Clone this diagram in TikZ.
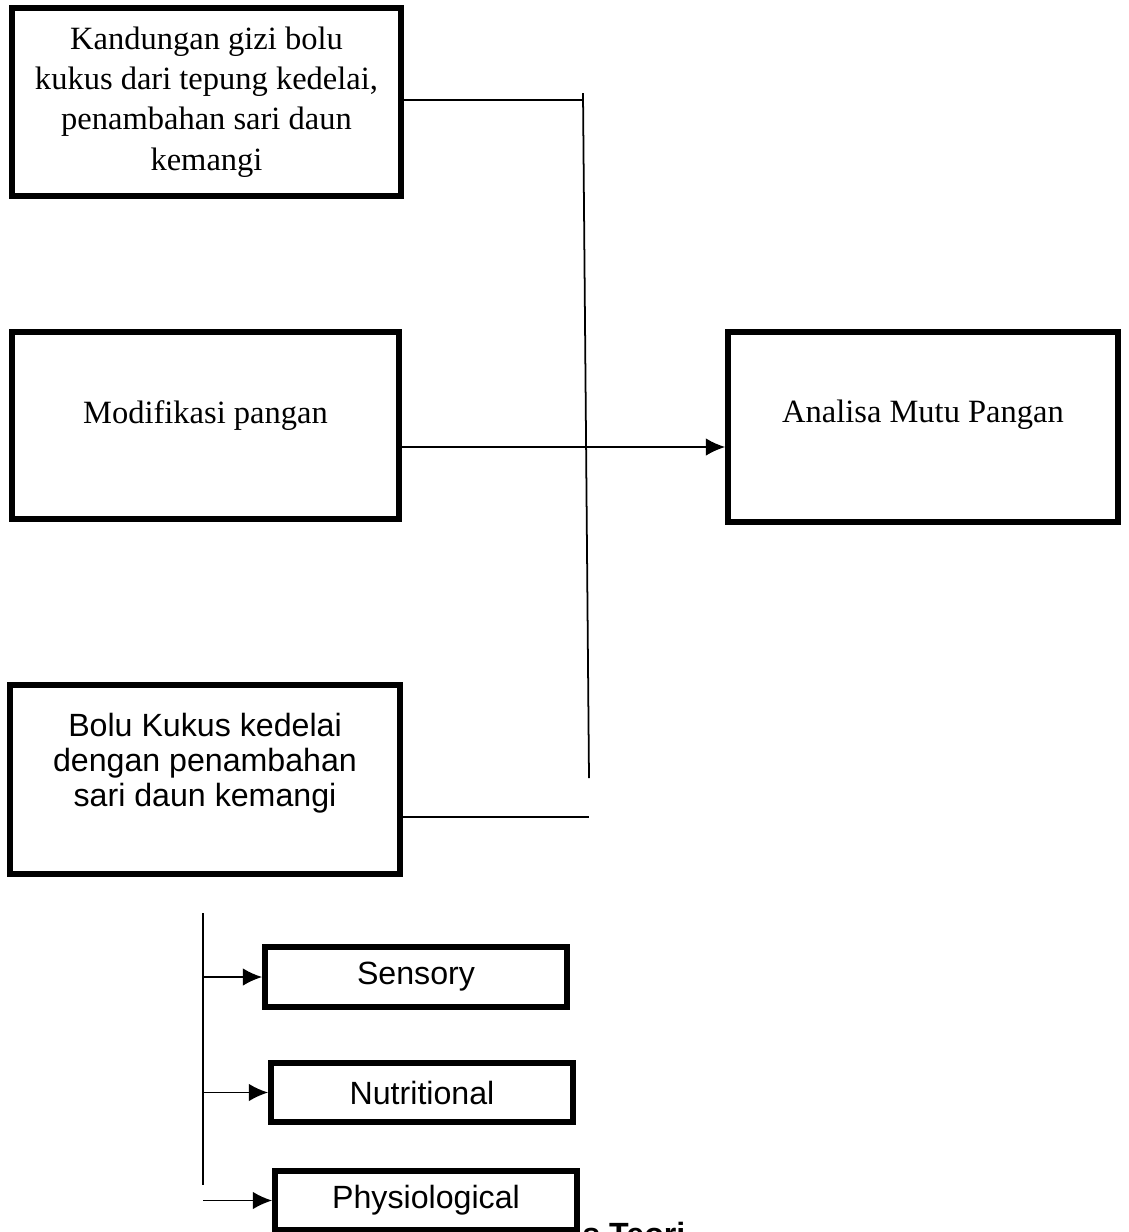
\documentclass[tikz,border=0pt]{standalone}
\usepackage{fontspec}
\setmainfont{Liberation Serif}
\setsansfont{Liberation Sans}
\usepackage{tikz}
\usetikzlibrary{arrows.meta}

\begin{document}
\begin{tikzpicture}[x=0.02cm, y=-0.02cm,
  box/.style={draw, line width=3.3pt, inner sep=0pt},
  rmtext/.style={font=\fontsize{18.5}{23}\selectfont, align=center},
  sftext/.style={font=\sffamily\fontsize{18.3}{20}\selectfont, align=center},
  link/.style={line width=1pt},
  tip/.style={link, -{Latex[length=11pt, width=10pt]}}]
\useasboundingbox (0,0) rectangle (1129,1232);

% left column
\node[box, rmtext, minimum width=7.78cm, minimum height=3.76cm] (gizi) at (206.5,102)
  {Kandungan gizi bolu\\kukus dari tepung kedelai,\\penambahan sari daun\\kemangi};
\node[box, minimum width=7.74cm, minimum height=3.74cm] (modif) at (205.5,425.5) {};
\node[rmtext] (modiftext) at ([yshift=0.2cm]modif.center) {Modifikasi pangan};
\node[box, minimum width=7.8cm, minimum height=3.78cm] (bolu) at (205,779.5) {};
\node[sftext] (bolutext) at ([yshift=0.33cm]bolu.center) {Bolu Kukus kedelai\\dengan penambahan\\sari daun kemangi};

% right box
\node[box, minimum width=7.8cm, minimum height=3.8cm] (mutu) at (923,427) {};
\node[rmtext] (mututext) at ([yshift=0.24cm]mutu.center) {Analisa Mutu Pangan};

% three aspects
\node[box, sftext, minimum width=6.04cm, minimum height=1.2cm] (sens) at (416,977) {Sensory};
\node[box, sftext, minimum width=6.04cm, minimum height=1.18cm] (nutr) at (422,1092.5) {Nutritional};
\node[box, sftext, minimum width=6.04cm, minimum height=1.18cm] (phys) at (426,1200.5) {Physiological};

\node[font=\sffamily\bfseries\fontsize{18.3}{20}\selectfont, anchor=base west, inner sep=0pt] (capt) at (582,1245) {s Teori};

% connectors
\coordinate (jtop) at (583,93);
\coordinate (jbot) at (589,778);
\draw[link] (jtop) -- (jbot);
\draw[link] (gizi.east) ++(0,-2) coordinate (g) -- (g -| jtop);
\draw[tip] (modif.east) ++(0,21.5) coordinate (m) -- (m -| mutu.west);
\draw[link] (bolu.east) ++(0,37.5) coordinate (b) -- (b -| jbot);

\coordinate (ttop) at (203,913);
\coordinate (tbot) at (203,1185);
\draw[link] (ttop) -- (tbot);
\foreach \n in {sens, nutr, phys}
  \draw[tip] (ttop |- \n.west) -- (\n.west);
\end{tikzpicture}
\end{document}
